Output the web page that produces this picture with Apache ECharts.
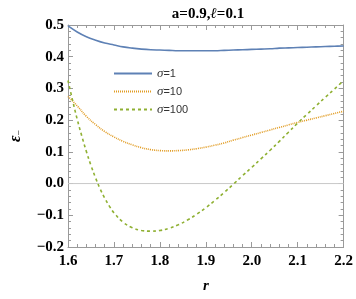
<!DOCTYPE html>
<html>
<head>
<meta charset="utf-8">
<script src="https://cdn.jsdelivr.net/npm/echarts@6/dist/echarts.min.js"></script>
<style>html,body{margin:0;padding:0;background:#fff}#c{width:356px;height:299px}</style>
</head>
<body>
<div id="c"></div>
<script>
var rA = [1.60,1.62,1.64,1.66,1.68,1.70,1.72,1.74,1.76,1.78,1.80,1.82,1.84,1.86,1.88,1.90,1.92,1.94,1.96,1.98,2.00,2.02,2.04,2.06,2.08,2.10,2.12,2.14,2.16,2.18,2.20];
var sigma1 = [0.497,0.478,0.463,0.452,0.443,0.437,0.431,0.427,0.424,0.422,0.421,0.420,0.419,0.419,0.419,0.419,0.419,0.420,0.421,0.422,0.423,0.424,0.425,0.427,0.428,0.429,0.430,0.431,0.432,0.433,0.434];
var sigma10 = [0.275,0.245,0.212,0.186,0.164,0.147,0.133,0.122,0.113,0.107,0.104,0.103,0.104,0.106,0.110,0.115,0.121,0.128,0.137,0.145,0.153,0.161,0.169,0.177,0.185,0.193,0.200,0.207,0.214,0.221,0.228];
var rB = [1.60,1.61,1.62,1.63,1.64,1.65,1.66,1.67,1.68,1.69,1.70,1.72,1.74,1.76,1.78,1.80,1.82,1.84,1.86,1.88,1.90,1.92,1.94,1.96,1.98,2.00,2.02,2.04,2.06,2.08,2.10,2.12,2.14,2.16,2.18,2.20];
var sigma100 = [0.325,0.262,0.203,0.150,0.101,0.057,0.018,-0.017,-0.046,-0.071,-0.092,-0.122,-0.139,-0.148,-0.150,-0.148,-0.141,-0.130,-0.115,-0.097,-0.076,-0.053,-0.028,-0.002,0.025,0.051,0.078,0.105,0.133,0.162,0.191,0.218,0.245,0.272,0.298,0.325];
var legendNames = ['1','10','100'];

function pairs(xs, ys){ return xs.map(function(x,i){return [x, ys[i]];}); }

var chart = echarts.init(document.getElementById('c'), null, {renderer:'canvas'});
var frame = '#9a9a9a';
var labelFont = {fontFamily:'Liberation Serif', fontWeight:'bold', fontSize:15, color:'#000'};
var baseX = {
  type:'value', min:1.6, max:2.2, interval:0.1,
  axisLine:{show:true, onZero:false, lineStyle:{color:frame, width:1}},
  axisTick:{show:true, inside:true, length:5, lineStyle:{color:frame}},
  minorTick:{show:true, splitNumber:5, length:3, lineStyle:{color:frame}},
  splitLine:{show:false}
};
var baseY = {
  type:'value', min:-0.2, max:0.5, interval:0.1,
  axisLine:{show:true, onZero:false, lineStyle:{color:frame, width:1}},
  axisTick:{show:true, inside:true, length:5, lineStyle:{color:frame}},
  minorTick:{show:true, splitNumber:5, length:3, lineStyle:{color:frame}},
  splitLine:{show:false}
};
var colors = ['#5e81b5','#e19c24','#8fb032'];
var keys = ['s1','s10','s100'];
var option = {
  animation:false,
  title:{
    text:'{a|a=0.9,}{l|ℓ}{a|=0.1}',
    left:203, top:2, textAlign:'center',
    textStyle:{rich:{
      a:{fontFamily:'Liberation Serif', fontWeight:'bold', fontSize:15, color:'#000'},
      l:{fontFamily:'Liberation Serif', fontStyle:'italic', fontWeight:'bold', fontSize:15, color:'#000'}
    }}
  },
  grid:{left:62, right:11, top:25, bottom:49, containLabel:false},
  legend:{
    orient:'vertical', left:108, top:62, itemGap:5, itemWidth:38, itemHeight:14,
    data:keys,
    itemStyle:{opacity:0},
    formatter:function(n){ return '{i|σ}{n|=' + legendNames[keys.indexOf(n)] + '}'; },
    textStyle:{rich:{
      i:{fontFamily:'Liberation Serif', fontStyle:'italic', fontSize:13, color:'#333'},
      n:{fontFamily:'Liberation Sans', fontSize:11, color:'#333'}
    }}
  },
  xAxis:[
    Object.assign({}, baseX, {
      position:'bottom',
      name:'r', nameLocation:'middle', nameGap:32,
      nameTextStyle:{fontFamily:'Liberation Serif', fontStyle:'italic', fontWeight:'bold', fontSize:15, color:'#000'},
      axisLabel:Object.assign({margin:7, formatter:function(v){return v.toFixed(1);}}, labelFont)
    }),
    Object.assign({}, baseX, {position:'top', axisLabel:{show:false}})
  ],
  yAxis:[
    Object.assign({}, baseY, {
      position:'left',
      name:'{e|ε}{s|−}', nameLocation:'middle', nameGap:44, nameRotate:90,
      nameTextStyle:{rich:{
        e:{fontFamily:'Liberation Serif', fontStyle:'italic', fontWeight:'bold', fontSize:16, color:'#000'},
        s:{fontFamily:'Liberation Serif', fontSize:10, color:'#000', verticalAlign:'bottom', padding:[6,0,0,0]}
      }},
      axisLabel:Object.assign({margin:4, formatter:function(v){return v.toFixed(1).replace('-','−');}}, labelFont)
    }),
    Object.assign({}, baseY, {position:'right', axisLabel:{show:false}})
  ],
  series:[
    {name:'zero', type:'line', data:[[1.6,0],[2.2,0]], symbol:'none', silent:true,
     lineStyle:{color:'#c8c8c8', width:1}, z:1},
    {name:'s1', type:'line', data:pairs(rA, sigma1), symbol:'none', smooth:0.4,
     lineStyle:{color:colors[0], width:1.6}, itemStyle:{color:colors[0]}},
    {name:'s10', type:'line', data:pairs(rA, sigma10), symbol:'none', smooth:0.4,
     lineStyle:{color:colors[1], width:1.6, type:[1,1]}, itemStyle:{color:colors[1]}},
    {name:'s100', type:'line', data:pairs(rB, sigma100), symbol:'none', smooth:0.4,
     lineStyle:{color:colors[2], width:1.6, type:[3,3]}, itemStyle:{color:colors[2]}}
  ]
};
chart.setOption(option);
</script>
</body>
</html>
